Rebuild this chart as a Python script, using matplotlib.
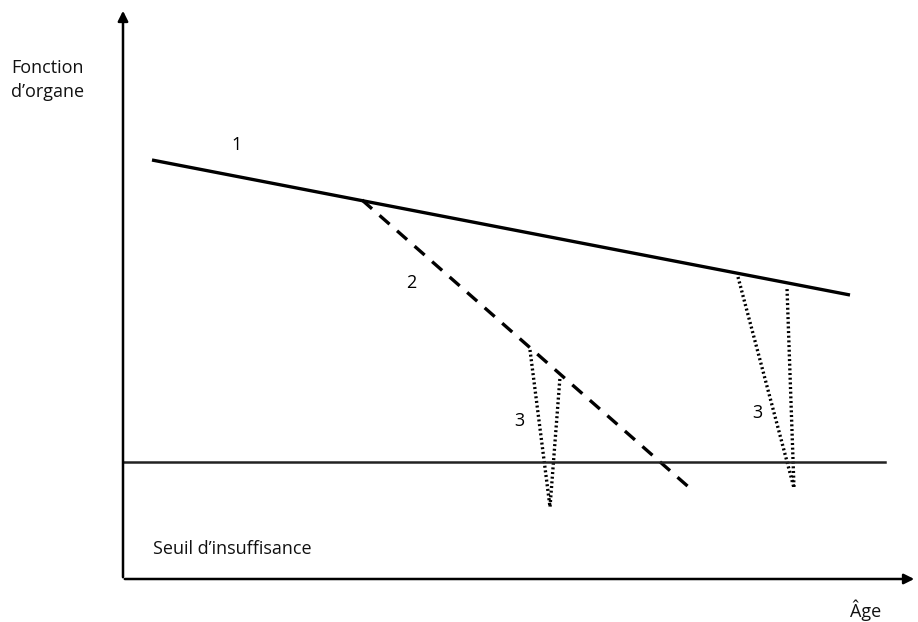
import matplotlib.pyplot as plt

# Coordonnées du schéma (unités = pixels de l'image, y vers le bas)
ligne1_x = [152, 850]
ligne1_y = [160, 295]

ligne2_x = [362, 692]
ligne2_y = [200, 490]

chute1_x = [530, 550, 560]
chute1_y = [350, 507, 377]

chute2_x = [738, 794, 787]
chute2_y = [277, 488, 288]

seuil_x = [123, 885]
seuil_y = [462, 462]

etiquettes = ["1", "2", "3", "3"]
etiq_x = [237, 411, 519, 757]
etiq_y = [145, 283, 421, 413]

fig = plt.figure(figsize=(9.18, 6.22), dpi=100)
ax = fig.add_axes([0, 0, 1, 1])
ax.set_xlim(0, 918)
ax.set_ylim(622, 0)
ax.axis('off')

police = ['Open Sans', 'DejaVu Sans']

# Axes avec flèches
ax.annotate('', xy=(123, 8), xytext=(123, 580), annotation_clip=False,
            arrowprops=dict(arrowstyle='-|>', color='black', lw=1.8, mutation_scale=15))
ax.annotate('', xy=(917, 579), xytext=(122, 579), annotation_clip=False,
            arrowprops=dict(arrowstyle='-|>', color='black', lw=1.8, mutation_scale=15))

ax.plot(ligne1_x, ligne1_y, color='black', lw=2.4, solid_capstyle='butt')
ax.plot(ligne2_x, ligne2_y, color='black', lw=2.4, linestyle=(0, (4, 3)))
ax.plot(chute1_x, chute1_y, color='black', lw=2.4, linestyle=(0, (0.6, 0.8)))
ax.plot(chute2_x, chute2_y, color='black', lw=2.4, linestyle=(0, (0.6, 0.8)))
ax.plot(seuil_x, seuil_y, color='#222222', lw=1.8)

for t, x, y in zip(etiquettes, etiq_x, etiq_y):
    ax.text(x, y, t, fontsize=13, ha='center', va='center', family=police)

ax.text(11, 80, "Fonction\nd’organe", fontsize=13, ha='left', va='center',
        family=police, linespacing=1.45, color='#111111')
ax.text(153, 549, "Seuil d’insuffisance", fontsize=13, ha='left', va='center',
        family=police, color='#111111')
ax.text(866, 610, "Âge", fontsize=13, ha='center', va='center', family=police,
        color='#111111')

fig.savefig('out.png', dpi=100)
